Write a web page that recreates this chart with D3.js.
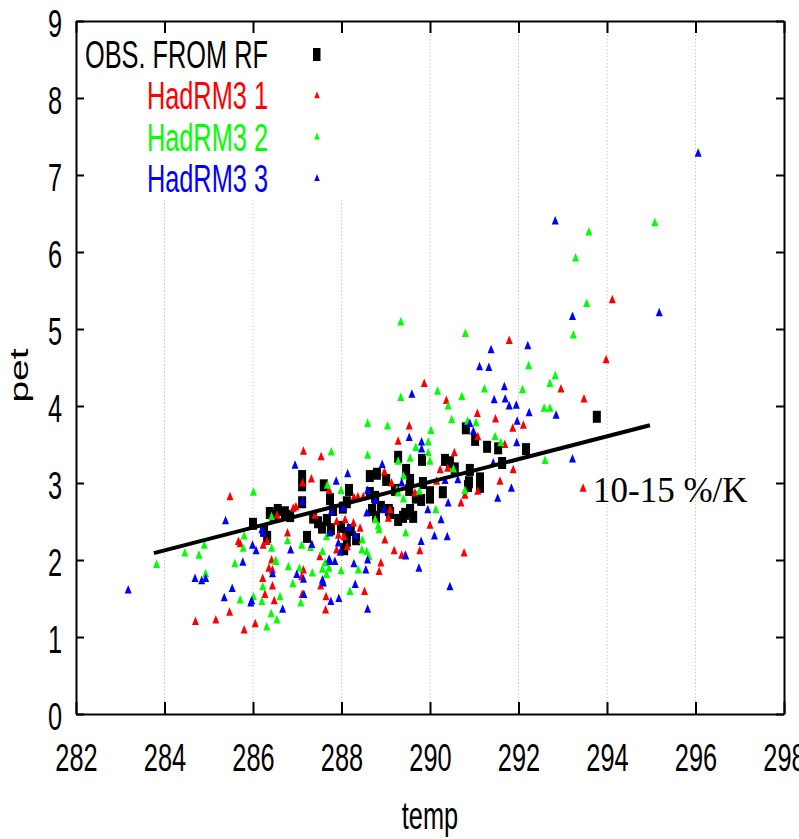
<!DOCTYPE html>
<html>
<head>
<meta charset="utf-8">
<script src="https://cdn.jsdelivr.net/npm/d3@7"></script>
<style>
  body { margin: 0; background: #fff; }
  svg { display: block; }
</style>
</head>
<body>
<svg id="chart"></svg>
<script>
// tick labels
const xTicks = [282, 284, 286, 288, 290, 292, 294, 296, 298];
const yTicks = [0, 1, 2, 3, 4, 5, 6, 7, 8, 9];

// series: [temp, pet]
const obs = [[286.00,2.47],[286.25,2.38],[286.32,2.30],[286.47,2.57],[286.56,2.65],[286.72,2.62],[286.84,2.57],[286.38,2.61],
  [287.11,3.09],[287.11,2.97],[287.11,2.75],[287.22,2.30],[287.36,2.55],[287.47,2.49],[287.56,2.42],[287.67,2.52],[287.76,2.40],
  [287.60,2.97],[287.74,2.79],[287.81,2.65],[288.03,2.68],[288.12,2.75],[288.17,2.91],[287.99,2.43],[288.11,2.35],[288.21,2.39],
  [288.33,2.27],[288.12,2.25],[288.06,2.14],[288.64,3.09],[288.80,3.12],[289.01,3.04],[288.64,2.87],[288.76,2.82],[288.69,2.65],
  [288.78,2.56],[288.89,2.69],[289.07,2.65],[289.28,2.52],[289.28,3.34],[289.21,2.91],[289.46,3.17],[289.55,3.04],[289.53,2.91],
  [289.68,2.81],[289.80,2.78],[290.00,2.81],[290.00,2.88],[289.84,3.00],[289.55,2.65],[289.44,2.60],[289.62,2.56],[289.39,2.56],
  [289.10,2.61],[289.82,3.30],[290.29,2.88],[290.34,3.30],[290.45,3.27],[290.56,3.19],[290.81,3.71],[291.02,3.56],[290.88,3.01],
  [291.13,3.06],[290.86,2.96],[291.13,2.95],[290.90,3.17],[291.29,3.47],[291.54,3.45],[291.63,3.26],[292.17,3.44],[293.77,3.86]];

const had1 = [[285.48,2.82],[285.67,2.24],[285.71,2.21],[286.23,2.19],[286.32,2.24],[286.54,2.58],[286.91,2.67],[286.97,2.69],
  [287.14,3.41],[287.54,3.34],[287.12,3.00],[287.32,3.05],[287.72,2.90],[288.97,3.14],[289.13,3.00],[289.28,3.54],[288.28,2.81],
  [288.37,2.82],[288.49,2.82],[287.40,2.58],[287.89,2.50],[288.08,2.52],[288.27,2.48],[288.42,2.41],[289.06,2.54],[288.06,2.30],
  [287.93,2.32],[288.13,2.17],[287.89,2.13],[288.98,2.26],[289.19,2.12],[286.36,1.89],[286.22,1.76],[286.44,1.66],[286.27,1.55],
  [286.48,1.47],[285.47,1.32],[285.16,1.22],[284.70,1.20],[286.05,1.17],[285.80,1.09],[286.78,2.35],[286.42,2.00],[286.44,1.87],
  [287.10,1.78],[287.14,1.87],[287.53,1.66],[287.65,1.52],[287.64,1.35],[287.11,1.55],[288.52,1.59],[288.89,1.96],[288.85,1.85],
  [287.51,2.04],[289.53,3.74],[291.07,3.90],[291.48,3.83],[291.87,3.71],[291.08,3.60],[291.69,3.50],[290.55,3.39],[290.23,3.17],
  [290.40,3.19],[291.88,3.17],[291.58,3.02],[290.15,3.02],[290.79,2.84],[291.08,2.89],[289.66,2.87],[290.70,2.74],[289.10,2.65],
  [290.00,2.45],[289.36,2.06],[289.44,2.06],[289.77,2.12],[290.77,2.09],[289.87,4.29],[290.37,4.07],[291.79,4.85],[292.96,4.22],
  [293.48,4.09],[293.98,4.60],[294.12,5.38],[293.46,2.93],[292.11,3.75]];

const had2 = [[283.82,1.94],[284.46,2.09],[284.78,2.06],[284.90,2.19],[284.93,1.82],[286.01,2.88],[285.80,2.31],[285.78,2.15],
  [286.42,2.15],[285.59,1.95],[286.51,1.99],[286.22,1.65],[286.20,1.46],[285.71,1.48],[286.01,1.52],[286.31,1.13],[286.41,1.30],
  [286.54,1.22],[286.61,1.52],[286.52,1.98],[286.80,1.91],[287.05,1.89],[287.08,1.44],[287.34,1.83],[287.57,1.88],[287.66,1.81],
  [287.72,1.89],[287.99,1.86],[288.19,1.59],[288.38,1.87],[286.42,2.56],[286.78,2.25],[287.10,2.19],[287.30,2.16],[287.57,2.11],
  [287.63,1.96],[287.66,2.30],[288.47,2.26],[288.57,2.11],[288.62,2.04],[286.90,1.69],[287.68,2.97],[287.99,2.90],[287.77,3.40],
  [288.59,3.77],[289.04,3.74],[288.59,3.36],[289.28,3.28],[288.76,2.52],[288.83,2.44],[288.85,2.39],[289.25,2.91],[288.46,2.13],
  [290.49,3.82],[290.85,3.80],[291.04,3.78],[290.02,3.68],[291.47,3.60],[291.60,3.52],[289.96,3.53],[289.68,3.46],[289.96,3.39],
  [290.00,3.28],[289.55,3.32],[290.53,3.18],[289.40,3.09],[290.79,2.90],[289.76,2.89],[289.28,2.87],[289.40,2.79],[290.13,2.65],
  [289.45,2.35],[289.34,5.09],[290.80,4.94],[292.23,4.52],[293.24,4.92],[293.54,5.33],[289.34,4.11],[290.17,4.19],[290.72,4.12],
  [290.41,4.00],[291.23,4.22],[292.09,4.21],[292.71,4.29],[292.83,4.39],[292.58,3.97],[292.71,3.97],[292.60,3.29],[295.08,6.38],
  [293.59,6.26],[293.29,5.92]];

const had3 = [[283.18,1.61],[284.69,1.76],[284.84,1.73],[284.93,1.76],[285.35,1.51],[285.53,1.63],[285.95,1.44],[285.97,1.47],
  [285.38,2.51],[285.77,1.97],[285.99,2.19],[286.07,2.12],[286.20,2.39],[286.23,2.35],[286.44,1.82],[286.67,1.36],[286.99,1.81],
  [287.14,1.75],[287.15,1.55],[287.57,1.74],[287.59,1.70],[287.76,1.46],[287.94,1.50],[287.74,1.98],[287.85,1.98],[288.31,1.68],
  [288.28,1.95],[288.55,1.87],[288.59,1.36],[288.59,2.00],[286.85,2.13],[287.33,2.20],[286.95,3.23],[287.12,2.76],[287.88,3.02],
  [288.14,3.12],[287.77,2.63],[288.04,2.67],[287.74,2.35],[288.16,2.42],[288.31,2.32],[287.93,2.22],[287.97,2.10],[287.72,2.01],
  [288.57,2.61],[288.76,2.77],[288.96,2.65],[288.59,2.90],[288.92,3.24],[289.36,3.00],[289.53,3.59],[289.81,3.53],[289.81,3.44],
  [290.90,3.77],[290.98,3.67],[291.97,3.80],[291.96,3.52],[291.43,3.26],[290.63,3.04],[290.34,3.03],[291.84,2.93],[291.53,2.80],
  [290.41,2.74],[289.95,2.65],[290.25,2.52],[290.10,2.31],[290.39,2.30],[289.80,2.24],[289.45,2.05],[289.75,1.89],[290.45,1.65],
  [289.59,4.15],[291.38,4.73],[291.12,4.51],[291.33,4.50],[292.21,4.78],[291.68,4.25],[291.45,4.08],[291.70,4.09],[291.79,4.00],
  [291.95,4.01],[292.24,3.91],[292.85,3.88],[293.22,5.16],[295.18,5.21],[292.83,6.40],[296.06,7.28],[293.22,3.31]];

// fitted trend
const fitTemp = [283.76, 294.97];
const fitPet = [2.09, 3.75];

const legendNames = ["OBS. FROM RF", "HadRM3 1", "HadRM3 2", "HadRM3 3"];
const legendColors = ["#000000", "#ff0000", "#00ff00", "#0000ff"];

const width = 799, height = 839;
const margin = {top: 21, right: 15, bottom: 125, left: 76};
const squeeze = 0.65;
const font = "'Liberation Sans', Arial, sans-serif";

const svg = d3.select("#chart").attr("width", width).attr("height", height);

const x = d3.scaleLinear().domain([282, 298]).range([margin.left, width - margin.right]);
const y = d3.scaleLinear().domain([0, 9]).range([height - margin.bottom, margin.top]);

// vertical grid
svg.append("g")
  .selectAll("line")
  .data(xTicks.slice(1, -1))
  .join("line")
  .attr("x1", d => x(d)).attr("x2", d => x(d))
  .attr("y1", y(9)).attr("y2", y(0))
  .attr("stroke", "#c8c8c8")
  .attr("stroke-width", 1)
  .attr("stroke-dasharray", "1.5,2");

// key box hides grid behind it
svg.append("rect")
  .attr("x", x(282) + 1).attr("y", y(9) + 1)
  .attr("width", 324).attr("height", 178)
  .attr("fill", "#fff");

// axes
const xAxis = svg.append("g")
  .attr("transform", `translate(0,${y(0)})`)
  .call(d3.axisBottom(x).tickValues(xTicks).tickSize(-12).tickSizeOuter(0));
xAxis.selectAll("text")
  .attr("y", 57).attr("dy", 0)
  .attr("transform", `scale(${squeeze},1)`);

svg.append("g")
  .attr("transform", `translate(0,${y(9)})`)
  .call(d3.axisTop(x).tickValues(xTicks).tickSize(-12).tickSizeOuter(0).tickFormat(""));

const yAxis = svg.append("g")
  .attr("transform", `translate(${x(282)},0)`)
  .call(d3.axisLeft(y).tickValues(yTicks).tickSize(-8).tickSizeOuter(0));
yAxis.selectAll("text")
  .attr("x", -14 / squeeze).attr("y", 15).attr("dy", 0)
  .attr("transform", `scale(${squeeze},1)`);

svg.append("g")
  .attr("transform", `translate(${x(298)},0)`)
  .call(d3.axisRight(y).tickValues(yTicks).tickSize(-8).tickSizeOuter(0).tickFormat(""));

svg.selectAll(".domain").attr("stroke", "#000").attr("stroke-width", 2);
svg.selectAll(".tick line").attr("stroke", "#000").attr("stroke-width", 2);
svg.selectAll(".tick text")
  .attr("fill", "#000")
  .style("font-family", font)
  .style("font-size", "39px");

// markers
const tri = (cx, cy, w, h) => `M${cx},${cy - h * 0.6}L${cx + w / 2},${cy + h * 0.4}L${cx - w / 2},${cy + h * 0.4}Z`;

svg.append("g")
  .selectAll("rect")
  .data(obs)
  .join("rect")
  .attr("x", d => x(d[0]) - 4)
  .attr("y", d => y(d[1]) - 6)
  .attr("width", 8)
  .attr("height", 12)
  .attr("fill", "#000");

[had1, had2, had3].forEach((series, i) => {
  svg.append("g")
    .selectAll("path")
    .data(series)
    .join("path")
    .attr("d", d => tri(x(d[0]), y(d[1]), 7, 8.5))
    .attr("fill", legendColors[i + 1]);
});

// trend line
const line = d3.line().x(d => x(d[0])).y(d => y(d[1]));
svg.append("path")
  .datum(d3.zip(fitTemp, fitPet))
  .attr("d", line)
  .attr("fill", "none")
  .attr("stroke", "#000")
  .attr("stroke-width", 4);

// key
const key = svg.append("g");
legendNames.forEach((name, i) => {
  const base = 68 + i * 41.4;
  key.append("text")
    .attr("transform", `translate(268,${base}) scale(${squeeze},1)`)
    .attr("text-anchor", "end")
    .style("font-family", font)
    .style("font-size", "39px")
    .attr("fill", legendColors[i])
    .text(name);
  if (i === 0) {
    key.append("rect")
      .attr("x", 313).attr("y", base - 20)
      .attr("width", 7.5).attr("height", 13)
      .attr("fill", "#000");
  } else {
    key.append("path")
      .attr("d", tri(317, base - 14, 5.5, 7))
      .attr("fill", legendColors[i]);
  }
});

// axis titles
svg.append("text")
  .attr("transform", `translate(28,${(y(0) + y(9)) / 2 + 8}) scale(${squeeze},1) rotate(-90)`)
  .attr("text-anchor", "middle")
  .style("font-family", font)
  .style("font-size", "39px")
  .text("pet");

svg.append("text")
  .attr("transform", `translate(${x(290)},829) scale(${squeeze},1)`)
  .attr("text-anchor", "middle")
  .style("font-family", font)
  .style("font-size", "39px")
  .text("temp");

// annotation
svg.append("text")
  .attr("x", 593).attr("y", 502)
  .style("font-family", "'Liberation Serif', 'Times New Roman', serif")
  .style("font-size", "35px")
  .text("10-15 %/K");
</script>
</body>
</html>
